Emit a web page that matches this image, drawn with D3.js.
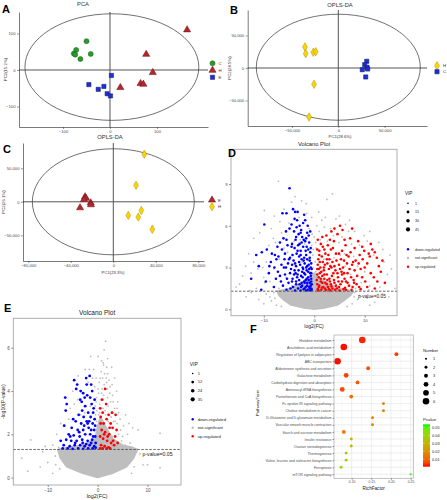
<!DOCTYPE html>
<html><head><meta charset="utf-8">
<script src="https://cdn.jsdelivr.net/npm/d3@7"></script>
<style>body{margin:0;background:#fff}svg{display:block}text{font-family:"Liberation Sans",Arial,sans-serif}</style>
</head><body><svg id="c" width="447" height="500"></svg>
<script>
// ---------- DATA ----------
// Panel A (PCA)
const pcaLabels = ["C", "H", "E"];
const pcaGreen = [[-50,79],[-72,55],[-77,45],[-74,42],[-63,30],[-41,44]];
const pcaRed   = [[164,110],[77,43],[91,-7],[22,-48],[65,-37],[71,-39]];
const pcaBlue  = [[3,-15],[-45,-40],[-25,-53],[-13,-45],[-6,-65],[1,-71]];
const pcaTicks = [-100, 0, 100];
// Panel B (OPLS-DA H vs C)
const oplsBLabels = ["H", "C"];
const oplsB_H = [[-36000,32300],[-35200,22000],[-27000,24200],[-24400,25100],[-26200,-25100],[-31600,-75400]];
const oplsB_C = [[30700,10300],[28500,5100],[31000,1100],[25900,-2600],[31700,-1500],[29600,-13800]];
const oplsBTicks = [-50000, 0, 50000];
// Panel C (OPLS-DA E vs H)
const oplsCLabels = ["E", "H"];
const oplsC_E = [[-26600,7400],[-25700,5300],[-27600,3400],[-21300,-1500],[-21000,-4400],[-31300,-8900]];
const oplsC_H = [[29200,71000],[21400,24600],[26400,-12900],[14100,-20300],[23500,-22800],[36700,-41000]];
const oplsCXTicks = [-80000, -40000, 0, 40000, 80000];
const oplsCYTicks = [-50000, 0, 50000];

// Panel D (volcano) [log2FC, -log10 p]
const volD_down = [[-4.9,8.7],[-9.9,6.1],[-6.3,6.9],[-5.5,6.9],[-4.2,7.2],[-3.8,7.0],[-2.0,6.8],[-3.4,6.4],[-1.8,6.4],[-3.5,5.9],[-5.6,5.6],[-2.6,5.7],[-1.4,5.5],[-3.6,5.2],[-2.4,5.2],[-5.5,5.0],[-6.1,5.1],[-9.4,4.3],[-11.5,3.9],[-10.4,4.1],[-8.4,4.0],[-7.8,3.9],[-7.1,3.8],[-4.5,4.5],[-3.2,4.6],[-2.2,4.5],[-1.2,4.3],[-5.8,4.0],[-4.8,3.7],[-8.6,3.4],[-6.5,3.2],[-5.2,3.3],[-4.1,3.5],[-3.0,3.8],[-2.5,3.6],[-1.6,3.9],[-0.9,3.7],[-3.6,3.1],[-2.8,3.2],[-1.9,3.3],[-1.1,3.2],[-0.7,3.0],[-4.6,2.9],[-3.9,2.8],[-2.2,2.9],[-1.5,2.8],[-0.8,2.6],[-7.2,2.7],[-9.0,2.6],[-5.8,2.5],[-3.3,2.5],[-2.6,2.4],[-1.8,2.5],[-1.2,2.3],[-0.6,2.2],[-4.3,2.2],[-3.0,2.1],[-2.0,2.0],[-1.4,1.9],[-0.9,1.9],[-0.5,1.8],[-6.6,2.0],[-5.1,1.9],[-3.6,1.8],[-2.4,1.7],[-1.7,1.6],[-1.0,1.6],[-0.6,1.5],[-8.0,1.6],[-4.7,1.5],[-3.2,1.5],[-2.1,1.45],[-1.3,1.4],[-0.8,1.35],[-0.5,1.4],[-10.5,1.4],[-5.5,1.4],[-3.8,1.35],[-2.7,1.35],[-1.6,1.35],[-12.5,2.2],[-7.5,3.6],[-6.0,3.0],[-3.5,4.0],[-2.7,4.2],[-1.0,4.8],[-2.9,6.0],[-1.3,6.0],[-4.5,6.1],[-2.3,3.0],[-1.5,2.2],[-0.7,1.7],[-1.9,1.9],[-2.5,1.9],[-3.4,2.3],[-4.0,2.5],[-0.6,2.6],[-1.2,2.7],[-2.0,2.6],[-5.0,3.6],[-4.3,3.9],[-1.7,4.2],[-0.8,4.1],[-2.1,5.0],[-3.1,5.4],[-4.0,5.6],[-1.6,5.1],
 [-3.7,2.6],[-3.1,2.8],[-2.4,2.7],[-1.6,3.0],[-1.0,2.9],[-0.6,3.3],[-0.9,3.5],[-1.4,3.6],[-2.0,3.7],[-2.7,3.9],[-3.3,4.2],[-3.9,4.4],[-4.4,4.7],[-2.5,4.8],[-1.8,4.9],[-0.7,4.4],[-1.1,5.3],[-2.7,5.5],[-3.9,6.5],[-4.9,5.8],[-5.3,4.6],[-6.4,4.3],[-6.8,4.8],[-7.3,4.5],[-8.9,3.1],[-7.9,3.0],[-5.6,3.0],[-4.8,2.6],[-5.4,2.2],[-6.2,1.7],[-4.2,1.6],[-2.9,1.8],[-1.9,1.5],[-0.9,1.5],[-0.6,2.0],[-1.1,2.1],[-1.7,2.1],[-2.3,2.3],[-3.6,2.0],[-4.4,2.0],[-2.6,1.6],[-1.4,1.7],[-0.7,2.4],[-0.5,2.9],[-1.4,3.1],[-2.1,3.5],[-3.0,3.4],[-3.8,3.3],[-4.4,3.2],[-5.9,3.6],[-6.8,2.4],[-7.6,2.2],[-9.6,2.0],[-11,3.1],[-0.8,5.6],[-2.2,6.2],[-3.3,7.0],[-1.5,4.5],[-2.9,4.7],[-3.7,5.0]];
const volD_up = [[5.1,6.0],[3.9,4.9],[7.1,5.1],[8.7,4.9],[9.9,4.2],[12.4,3.7],[11.5,4.3],[11.2,4.7],[14.0,1.9],[1.7,4.5],[3.3,4.3],[2.4,5.3],[4.6,5.4],[6.2,4.6],[5.5,4.2],[4.3,4.0],[2.8,3.9],[1.5,3.8],[0.8,3.6],[6.8,3.8],[8.2,3.5],[7.5,3.2],[10.5,3.3],[9.2,2.9],[5.9,3.5],[4.9,3.2],[3.6,3.4],[2.1,3.2],[1.2,3.0],[0.6,2.9],[2.9,2.9],[4.2,2.8],[5.4,2.7],[6.6,2.6],[8.5,2.4],[11.8,2.3],[13.2,2.7],[10.1,2.0],[7.8,2.1],[6.0,2.2],[4.7,2.3],[3.5,2.4],[2.5,2.5],[1.6,2.4],[0.9,2.3],[0.5,2.1],[1.3,2.0],[2.2,1.9],[3.1,2.0],[4.0,1.9],[5.2,1.8],[6.9,1.7],[8.9,1.6],[12.0,1.5],[1.0,1.7],[1.8,1.6],[2.7,1.6],[3.6,1.5],[4.5,1.5],[5.8,1.45],[7.4,1.4],[0.7,1.45],[1.4,1.4],[2.3,1.38],[3.2,1.36],[4.1,1.4],[5.0,1.35],[6.3,1.4],[0.6,1.8],[1.1,2.6],[1.9,2.8],[2.6,2.1],[3.3,1.8],[0.8,1.35],[1.6,1.9],[2.0,2.2],[3.8,2.6],[4.4,3.5],[5.7,3.0],[3.0,3.6],[2.2,4.0],[1.0,4.2],[6.5,3.3],[7.0,2.9],[9.6,3.6],[10.8,4.0],[8.0,4.4],[2.7,4.6],[0.7,5.0],[1.3,2.2],[2.9,1.45],[4.8,2.0],[5.5,2.5],[3.4,3.0],[1.7,3.4],[0.9,2.9],[12.8,3.1],[7.9,1.9],[6.1,1.55],[9.5,2.3],
 [0.7,3.2],[1.1,3.4],[1.9,3.0],[2.6,3.3],[3.2,3.1],[4.0,3.1],[4.6,2.6],[5.1,2.9],[5.9,2.6],[6.3,2.0],[7.3,2.3],[8.0,2.8],[3.0,2.2],[2.0,2.5],[1.4,2.7],[0.6,2.5],[0.9,1.6],[1.5,1.55],[2.1,1.5],[2.5,1.8],[3.4,1.65],[3.9,2.1],[4.3,1.7],[4.9,1.6],[5.5,2.0],[6.6,1.9],[7.6,1.6],[8.4,1.8],[9.2,1.45],[10.5,1.6],[11.2,2.6],[12.5,2.0],[13.5,3.5],[11.0,3.8],[9.0,3.9],[7.2,4.1],[6.0,5.0],[4.0,5.8],[3.1,5.0],[1.3,4.7],[2.0,4.3],[2.5,3.6],[3.7,4.4],[4.9,4.0],[5.3,3.6],[6.4,3.9],[7.7,3.4],[8.8,3.3],[10.0,3.0],[1.0,3.9],[0.6,4.3],[1.6,5.2],[3.4,5.6],[5.6,5.7],[7.5,5.8],[9.5,4.5],[12.0,4.1]];
const volD_ns = [[-7.1,9.2],[-2.5,7.8],[-1.6,7.6],[2.5,7.9],[3.6,8.3],[-4.5,7.7],[-9.9,7.1],[-7.9,6.7],[1.5,6.4],[4.3,6.5],[6.2,6.1],[0.5,6.0],[-0.5,6.6],[-6.8,6.3],[-8.5,5.8],[-12.0,5.1],[-10.8,5.5],[8.0,5.6],[9.9,5.3],[12.8,4.8],[15.0,3.9],[-13.6,3.1],[-14.8,1.8],[-13,4.0],[-11.2,2.9],[-9.5,3.4],[-6.5,5.5],[-5.0,6.2],[-3.0,6.6],[-1.0,5.8],[0.0,5.2],[1.0,5.6],[2.0,5.9],[3.2,5.8],[5.5,5.2],[7.4,4.7],[6.8,5.6],[9.0,4.6],[10.5,4.9],[11.8,3.9],[13.8,3.4],[14.5,2.5],[13.0,1.6],[-12.0,3.4],[-10.0,2.3],[-8.8,2.0],[-7.7,4.8],[-6.0,4.4],[-4.0,4.9],[-2.8,5.0],[-1.9,4.7],[-0.5,4.6],[0.4,4.4],[1.2,5.0],[2.6,4.9],[3.8,5.3],[4.9,4.8],[6.0,4.0],[7.8,3.8],[8.6,3.1],[10.0,2.7],[11.0,1.7],[-0.3,3.9],[0.2,3.4],[-0.2,3.0],[0.3,2.7],[-0.4,2.4],[0.1,2.0],[-0.2,1.7],[0.4,1.5],[-5.3,4.1],[-6.9,3.6],[-8.0,2.9],[-9.8,1.9],[-11.5,1.5],[-15.5,1.6],[-14.2,2.4],[16.0,1.5],[-3.9,3.2],[-2.4,3.4],[-1.3,3.5],[1.9,3.6],[3.9,3.7],[5.2,3.9],[6.1,3.1],[7.2,2.5],[-5.6,2.3],[-4.4,1.7],[-7.0,1.5],[8.2,1.5],[9.3,1.9],[10.8,1.4],[-12.8,1.35],[-13.5,0.9],[-11,0.7],[-9.5,1.1],[-8.5,0.6],[-10,0.4],[9,1.0],[10.5,0.8],[12,0.5],[13.5,1.1],[11,0.3],[-8,1.2],[8,1.2],[-12.5,1.2],[14.8,0.9],[-7.5,0.3],[7.5,0.4],[6.5,0.2],[-6.5,0.2],[-8.8,0.9],[8.6,0.7],[-7.8,0.8],[7.9,0.9],[-0.2,4.3],[0.3,4.8],[-0.4,5.4],[-1.5,6.9],[0.9,7.0],[-3.8,8.1],[-6.0,7.2],[-8.1,5.1],[-9.0,4.6],[-10.2,3.0],[-12.5,2.6],[2.2,6.6],[5.0,6.7],[7.0,6.4],[11.0,5.6],[13.6,4.3],[15.3,2.9]];
// outline of the saturated grey cloud of non-significant features
const volD_nsCloud = [[0,0],[-2,0.1],[-4.6,0.3],[-6,0.65],[-7,1.0],[-7.4,1.3],[-5,1.5],[-3,1.8],[-1,2.3],[0,2.6],[1,2.3],[3,1.8],[5,1.5],[7.8,1.3],[7.2,1.0],[6,0.65],[4.6,0.3],[2,0.1]];
const volDXTicks = [-10, 0, 10];
const volDYTicks = [0, 3, 6, 9];
const volDVip = [1, 15, 30, 45];

// Panel E (volcano)
const volE_down = [[-1.6,4.7],[-2.3,4.6],[-4.7,4.5],[-4.1,4.3],[-2.2,4.3],[-4.3,4.1],[-2.9,3.9],[-6.5,3.7],[-6.2,3.4],[-6.4,3.1],[-3.1,3.1],[-6.7,2.4],[-2.1,3.8],[-3.4,4.0],[-1.5,3.7],[-3.2,3.5],[-1.2,3.4],[-0.8,3.2],[-2.5,3.3],[-1.9,3.0],[-3.8,2.9],[-2.8,2.8],[-1.4,2.8],[-0.6,2.7],[-4.4,2.6],[-3.3,2.5],[-2.2,2.6],[-1.0,2.5],[-5.2,2.3],[-4.0,2.2],[-2.9,2.2],[-1.8,2.3],[-0.7,2.2],[-5.8,2.0],[-4.8,1.95],[-3.6,1.9],[-2.5,2.0],[-1.5,2.0],[-0.5,1.9],[-6.3,1.75],[-5.3,1.7],[-4.2,1.7],[-3.1,1.75],[-2.0,1.7],[-1.1,1.75],[-0.4,1.6],[-6.8,1.5],[-5.6,1.45],[-4.6,1.5],[-3.5,1.5],[-2.6,1.45],[-1.6,1.5],[-0.7,1.45],[-7.0,1.35],[-6.0,1.35],[-5.0,1.33],[-3.9,1.35],[-2.9,1.33],[-1.9,1.35],[-1.0,1.35],[-0.4,1.38],[-4.5,1.6],[-3.0,1.6],[-1.3,1.6],[-2.3,1.55],[-5.5,1.9],[-2.7,2.4],[-1.3,2.2],[-0.9,1.9],[-3.7,2.1],[-4.9,2.7],[-0.6,3.6],[-1.1,4.0],[-0.9,3.0],[-2.0,2.5],[-0.5,2.4],[-1.7,2.6],[-3.5,3.6],[-2.6,3.7],[-1.3,4.3],[-7.4,1.7]];
const volE_up = [[1.5,4.1],[0.5,3.2],[1.8,2.7],[3.8,2.2],[3.1,1.7],[0.6,2.8],[1.2,2.5],[2.2,2.9],[2.6,2.5],[0.8,2.2],[1.5,2.1],[2.3,2.0],[3.0,2.3],[0.5,1.9],[1.1,1.8],[1.9,1.7],[2.7,1.6],[0.7,1.5],[1.4,1.45],[2.2,1.4],[3.3,1.5],[0.5,1.35],[1.0,1.35],[1.8,1.35],[2.5,1.35],[3.6,2.9],[2.9,3.0],[1.0,3.0],[1.7,3.4],[0.9,3.6],[2.4,2.3],[1.3,2.0],[0.6,2.5],[2.0,1.9],[4.0,1.6],[3.5,1.9]];
const volE_ns = [[1.6,6.3],[1.3,5.9],[-1.4,5.6],[1.1,5.3],[1.2,5.2],[8.1,2.2],[12.5,2.05],[-13.4,1.74],[0.7,4.9],[-2.5,5.0],[2.0,4.8],[1.8,4.4],[2.5,4.2],[0.3,4.4],[-0.3,4.6],[3.0,3.8],[2.6,3.5],[0.2,3.9],[-0.3,3.5],[0.4,3.4],[3.4,3.2],[4.5,2.7],[5.2,2.4],[6.0,2.0],[-0.2,3.1],[0.2,2.9],[-0.2,2.6],[0.3,2.4],[-0.2,2.1],[0.2,1.8],[-0.1,1.6],[2.9,4.3],[-3.9,4.7],[-5.0,4.0],[-5.5,3.2],[-4.7,3.4],[-7.4,2.5],[-8.2,2.0],[-9.0,1.5],[6.5,1.6],[7.0,2.3],[-10.5,1.45],[-1.9,4.4],[4.0,3.5],[3.8,4.0],[-4.0,3.6],[-5.8,2.7],[2.0,5.5],[-0.8,5.0],[1.0,4.6],[5.5,1.5],[-7.8,1.4],[0.1,5.6],[2.7,3.0],[3.2,2.6],[4.2,2.0],[4.8,1.7],[-3.4,2.9],[-2.6,3.0],[-1.5,3.3],[0.0,2.3],[0.5,2.0],[-0.3,1.4],[1.5,3.1],[2.1,3.3],[0.8,3.9],[-0.6,4.2],[1.4,4.8],[-15.2,0.9],[-11.5,0.5],[-10,0.7],[-8.5,1.0],[-14,0.3],[8.5,1.1],[10,0.6],[12.5,0.46],[9.1,0.59],[-9,0.2],[7.3,0.5],[-7.6,0.4],[-11,1.2],[6.8,0.2],[-8.4,0.6],
 [0.6,3.6],[1.2,3.8],[2.0,3.7],[2.4,3.9],[1.9,4.1],[1.3,4.3],[0.9,4.1],[0.4,3.0],[1.1,3.2],[1.6,2.9],[2.1,2.6],[2.7,2.8],[3.1,3.5],[3.5,2.6],[3.9,2.5],[4.2,3.0],[4.6,2.2],[5.0,1.9],[4.4,1.5],[3.8,1.45],[2.9,1.9],[2.5,1.7],[1.7,1.9],[1.2,1.6],[0.3,1.5],[0.2,2.6],[-0.4,2.9],[-0.5,3.3],[-0.2,3.7],[0.1,4.1],[0.5,4.6],[1.7,4.6],[2.3,4.5],[3.4,4.6],[2.8,5.1],[1.8,5.1],[0.8,5.4],[-1.0,4.6],[-1.7,5.0],[3.9,3.2],[5.6,2.9],[6.3,2.5]];
const volE_nsCloud = [[0,0],[-3,0.2],[-6.2,0.5],[-7.5,0.9],[-8,1.3],[-6,1.4],[-3,1.5],[-0.5,1.8],[0,2.4],[0.6,2.8],[1.5,2.4],[3,1.8],[5,1.5],[7,1.4],[8,1.3],[7.2,0.9],[5.8,0.5],[3,0.2]];
const volEXTicks = [-10, 0, 10];
const volEYTicks = [0, 2, 4, 6];
const volEVip = [1, 12, 24, 35];
const volLegend = ["down-regulated", "not-significant", "up-regulated"];

// Panel F (KEGG enrichment)
const fPathways = ["Histidine metabolism","Arachidonic acid metabolism","Regulation of lipolysis in adipocytes","ABC transporters","Aldosterone synthesis and secretion","Galactose metabolism","Carbohydrate digestion and absorption","Aminoacyl-tRNA biosynthesis","Pantothenate and CoA biosynthesis","Fc epsilon RI signaling pathway","Choline metabolism in cancer","D-Glutamine and D-glutamate metabolism","Vascular smooth muscle contraction","Starch and sucrose metabolism","Insulin resistance","Ovarian steroidogenesis","Thermogenesis","Valine, leucine and isoleucine biosynthesis","Ferroptosis","mTOR signaling pathway"];
const fRichFactor = [0.127,0.080,0.214,0.064,0.142,0.086,0.115,0.076,0.099,0.181,0.181,0.153,0.153,0.080,0.099,0.099,0.086,0.086,0.073,0.250];
const fNumber = [6,6,3,6,3,4,3,4,3,2,2,2,2,3,2,2,2,2,2,1];
const fPvalue = [0.002,0.001,0.004,0.001,0.007,0.005,0.008,0.006,0.012,0.014,0.015,0.017,0.017,0.015,0.030,0.030,0.036,0.036,0.045,0.053];
const fXTicks = [0.10, 0.15, 0.20, 0.25];
const fNumberLegend = [1,2,3,4,5,6];
const fPLegend = [0.01,0.02,0.03,0.04,0.05];

// ---------- DRAW ----------
const svg = d3.select("#c");
svg.append("rect").attr("width",447).attr("height",500).attr("fill","#fff");
const FONT = '"Liberation Sans",Arial,sans-serif';

function letter(t, x, y){
  svg.append("text").attr("x",x).attr("y",y).text(t)
    .attr("font-family",'"Liberation Serif","Times New Roman",serif').attr("font-weight","bold").attr("font-size",11);
}
const styles = {
  green:{type:d3.symbolCircle,size:20,fill:"#2b9a2b",stroke:"#17601a"},
  red:{type:d3.symbolTriangle,size:22,fill:"#b8262b",stroke:"#5e0f12"},
  blue:{type:d3.symbolSquare,size:18,fill:"#1f2fd4",stroke:"#0c176e"},
  yellow:{type:d3.symbolDiamond,size:20,fill:"#ffd500",stroke:"#a98e00"}
};
function styleAxis(g, fs){
  g.selectAll("path.domain").attr("stroke","#222").attr("stroke-width",0.6);
  g.selectAll(".tick line").attr("stroke","#333").attr("stroke-width",0.5);
  g.selectAll(".tick text").attr("font-size",fs).attr("fill","#4d4d4d").attr("font-family",FONT);
}

function scatterPanel(c){
  const g = svg.append("g");
  const x = d3.scaleLinear().domain(c.xd).range(c.xr);
  const y = d3.scaleLinear().domain(c.yd).range(c.yr);
  g.append("line").attr("x1",c.xr[0]).attr("x2",c.xr[1]).attr("y1",y(0)).attr("y2",y(0)).attr("stroke","#555").attr("stroke-width",1);
  g.append("line").attr("x1",x(0)).attr("x2",x(0)).attr("y1",c.yr[0]).attr("y2",c.yr[1]).attr("stroke","#555").attr("stroke-width",1);
  g.append("ellipse").attr("cx",x(c.ell[0])).attr("cy",y(c.ell[1]))
    .attr("rx",x(c.ell[0]+c.ell[2])-x(c.ell[0])).attr("ry",y(c.ell[1])-y(c.ell[1]+c.ell[3]))
    .attr("fill","none").attr("stroke","#333").attr("stroke-width",0.7);
  const ax = g.append("g").attr("transform",`translate(0,${c.yr[0]})`).call(d3.axisBottom(x).tickValues(c.xt).tickSize(2).tickSizeOuter(0).tickPadding(1.2));
  const ay = g.append("g").attr("transform",`translate(${c.xr[0]},0)`).call(d3.axisLeft(y).tickValues(c.yt).tickSize(2).tickSizeOuter(0).tickPadding(1.5));
  styleAxis(ax,4.2); styleAxis(ay,4.2);
  c.groups.forEach(gr=>{
    const s = styles[gr.style];
    g.selectAll(null).data(gr.data).enter().append("path")
      .attr("d",d3.symbol().type(s.type).size(s.size))
      .attr("transform",d=>`translate(${x(d[0])},${y(d[1])})`)
      .attr("fill",s.fill).attr("stroke",s.stroke).attr("stroke-width",0.5);
  });
  g.append("text").attr("x",c.title[1]).attr("y",c.title[2]).attr("text-anchor","middle").attr("font-size",5.8).attr("fill","#333").text(c.title[0]);
  if(c.ylab) g.append("text").attr("transform",`translate(${c.ylab[1]},${(c.yr[0]+c.yr[1])/2}) rotate(-90)`).attr("text-anchor","middle").attr("font-size",4.3).attr("fill","#333").text(c.ylab[0]);
  if(c.xlab) g.append("text").attr("x",c.xlab[1]).attr("y",c.xlab[2]).attr("text-anchor","middle").attr("font-size",4.2).attr("fill","#333").text(c.xlab[0]);
  c.groups.forEach((gr,i)=>{
    const s = styles[gr.style];
    const ly = c.leg[1] + i*c.leg[2];
    g.append("path").attr("d",d3.symbol().type(s.type).size(s.size)).attr("transform",`translate(${c.leg[0]},${ly})`)
      .attr("fill",s.fill).attr("stroke",s.stroke).attr("stroke-width",0.5);
    g.append("text").attr("x",c.leg[0]+6).attr("y",ly+1.5).attr("font-size",4.3).attr("fill","#333").text(gr.label);
  });
}

// A
scatterPanel({xd:[-193.6,208.5], xr:[19,208], yd:[-156.2,158.9], yr:[127,12],
  xt:pcaTicks, yt:pcaTicks, ell:[4,8,185,146], title:["PCA",83,6],
  ylab:["PC2(15.2%)",7],
  groups:[{data:pcaGreen,style:"green",label:pcaLabels[0]},{data:pcaRed,style:"red",label:pcaLabels[1]},{data:pcaBlue,style:"blue",label:pcaLabels[2]}],
  leg:[212.5,63.3,7]});
letter("A",2,13);
// B
scatterPanel({xd:[-97840,95790], xr:[247.7,427], yd:[-89230,89230], yr:[126,10],
  xt:oplsBTicks, yt:oplsBTicks, ell:[0,1200,88550,81540], title:["OPLS-DA",340,7],
  ylab:["PC2(28.5%)",231], xlab:["PC1(28.6%)",340,137.5],
  groups:[{data:oplsB_H,style:"yellow",label:oplsBLabels[0]},{data:oplsB_C,style:"blue",label:oplsBLabels[1]}],
  leg:[437,65.7,6]});
letter("B",230,14);
// C
scatterPanel({xd:[-84990,85360], xr:[23,204], yd:[-88310,87720], yr:[261,143],
  xt:oplsCXTicks, yt:oplsCYTicks, ell:[0,0,76200,79100], title:["OPLS-DA",110,139],
  ylab:["PC2(26.1%)",5], xlab:["PC1(23.3%)",113,273.5],
  groups:[{data:oplsC_E,style:"red",label:oplsCLabels[0]},{data:oplsC_H,style:"yellow",label:oplsCLabels[1]}],
  leg:[212,200,6.7]});
letter("C",3,153);

// Volcano
const volColors = {down:"#0000ff", ns:"#bebebe", up:"#ff0000"};
function volcano(c){
  const g = svg.append("g");
  const x = d3.scaleLinear().domain(c.xd).range(c.xr);
  const y = d3.scaleLinear().domain(c.yd).range(c.yr);
  g.append("rect").attr("x",c.xr[0]).attr("y",c.yr[1]).attr("width",c.xr[1]-c.xr[0]).attr("height",c.yr[0]-c.yr[1]).attr("fill","#fff");
  const line = d3.line().x(d=>x(d[0])).y(d=>y(d[1]));
  g.append("path").attr("d",line(c.cloud)+"Z").attr("fill",volColors.ns).attr("stroke",volColors.ns).attr("stroke-width",1.5).attr("stroke-linejoin","round");
  g.selectAll(null).data(c.ns).enter().append("circle").attr("cx",d=>x(d[0])).attr("cy",d=>y(d[1])).attr("r",0.9).attr("fill",volColors.ns);
  g.selectAll(null).data(c.down).enter().append("circle").attr("cx",d=>x(d[0])).attr("cy",d=>y(d[1])).attr("r",c.pr).attr("fill",volColors.down);
  g.selectAll(null).data(c.up).enter().append("circle").attr("cx",d=>x(d[0])).attr("cy",d=>y(d[1])).attr("r",c.pr).attr("fill",volColors.up);
  const thr = -Math.log10(0.05);
  g.append("line").attr("x1",c.xr[0]).attr("x2",c.xr[1]).attr("y1",y(thr)).attr("y2",y(thr)).attr("stroke","#444").attr("stroke-width",0.8).attr("stroke-dasharray","2.5,1.5");
  g.append("text").attr("x",c.pv[0]).attr("y",c.pv[1]).attr("font-size",c.fs+0.6).attr("fill","#222").text("p-value=0.05");
  g.append("rect").attr("x",c.xr[0]).attr("y",c.yr[1]).attr("width",c.xr[1]-c.xr[0]).attr("height",c.yr[0]-c.yr[1]).attr("fill","none").attr("stroke","#a6a6a6").attr("stroke-width",0.9);
  const ax = g.append("g").attr("transform",`translate(0,${c.yr[0]})`).call(d3.axisBottom(x).tickValues(c.xt).tickSize(2).tickSizeOuter(0).tickPadding(1.5));
  const ay = g.append("g").attr("transform",`translate(${c.xr[0]},0)`).call(d3.axisLeft(y).tickValues(c.yt).tickSize(2).tickSizeOuter(0).tickPadding(1.5));
  ax.select("path.domain").remove(); ay.select("path.domain").remove();
  styleAxis(ax,c.fs); styleAxis(ay,c.fs);
  g.append("text").attr("x",(c.xr[0]+c.xr[1])/2).attr("y",c.title[1]).attr("text-anchor","middle").attr("font-size",c.title[0]).attr("fill","#222").text("Volcano Plot");
  g.append("text").attr("x",(c.xr[0]+c.xr[1])/2).attr("y",c.xlab).attr("text-anchor","middle").attr("font-size",c.fs+0.8).attr("fill","#222").text("log2(FC)");
  if(c.ylab) g.append("text").attr("transform",`translate(${c.ylab},${(c.yr[0]+c.yr[1])/2}) rotate(-90)`).attr("text-anchor","middle").attr("font-size",c.fs+0.5).attr("fill","#222").text("-log10(P-value)");
  const L = c.leg;
  g.append("text").attr("x",L.x-3).attr("y",L.vipY).attr("font-size",c.lfs+1).attr("fill","#222").text("VIP");
  const rs = [0.8,1.4,1.8,2.1];
  c.vip.forEach((v,i)=>{
    const yy = L.vipY + L.d0 + i*L.dv;
    g.append("circle").attr("cx",L.x).attr("cy",yy).attr("r",rs[i]).attr("fill","#000");
    g.append("text").attr("x",L.x+L.tx).attr("y",yy+1.3).attr("font-size",c.lfs).attr("fill","#222").text(v);
  });
  [volColors.down,volColors.ns,volColors.up].forEach((col,i)=>{
    const yy = L.colY + i*L.dc;
    g.append("circle").attr("cx",L.x).attr("cy",yy).attr("r",1.2).attr("fill",col);
    g.append("text").attr("x",L.x+L.tx).attr("y",yy+1.3).attr("font-size",c.lfs).attr("fill","#222").text(volLegend[i]);
  });
}
volcano({xd:[-16.5,16.4], xr:[231,397], yd:[-0.46,11.5], yr:[315.7,149.3], xt:volDXTicks, yt:volDYTicks,
  down:volD_down, up:volD_up, ns:volD_ns, cloud:volD_nsCloud, pr:1.3, fs:4.2, lfs:3.6,
  title:[5.8,146], xlab:328, pv:[358,297.5], vip:volDVip,
  leg:{x:408, vipY:195, d0:8.3, dv:8.7, tx:7, colY:249.3, dc:8.7}});
letter("D",228,157);
volcano({xd:[-16.9,16.7], xr:[13.3,181], yd:[-0.34,7.36], yr:[485,318.3], xt:volEXTicks, yt:volEYTicks,
  down:volE_down, up:volE_up, ns:volE_ns, cloud:volE_nsCloud, pr:1.4, fs:4.6, lfs:4.1,
  title:[6.5,314.5], xlab:497.5, pv:[142.5,456], ylab:5, vip:volEVip,
  leg:{x:192.7, vipY:365.5, d0:8, dv:8.6, tx:5, colY:419.3, dc:8.5}});
letter("E",4,312);

// F
(function(){
  const g = svg.append("g");
  const x0=334, x1=413.3, yT=335, yB=478.3;
  const x = d3.scaleLinear().domain([0.055,0.257]).range([x0,x1]);
  const y = d3.scalePoint().domain(fPathways).range([340,474.3]);
  const size = d3.scaleLinear().domain([1,6]).range([1.0,3.3]);
  const col = d3.scaleLinear().domain([0.0007,0.0538]).range(["#ff0000","#00ff00"]).interpolate(d3.interpolateLab);
  g.append("rect").attr("x",x0).attr("y",yT).attr("width",x1-x0).attr("height",yB-yT).attr("fill","#fff");
  const minor = [0.075,0.125,0.175,0.225];
  minor.forEach(v=>g.append("line").attr("x1",x(v)).attr("x2",x(v)).attr("y1",yT).attr("y2",yB).attr("stroke","#f2f2f2").attr("stroke-width",0.5));
  fXTicks.forEach(v=>g.append("line").attr("x1",x(v)).attr("x2",x(v)).attr("y1",yT).attr("y2",yB).attr("stroke","#e6e6e6").attr("stroke-width",0.7));
  fPathways.forEach(p=>g.append("line").attr("x1",x0).attr("x2",x1).attr("y1",y(p)).attr("y2",y(p)).attr("stroke","#e6e6e6").attr("stroke-width",0.7));
  g.selectAll(null).data(fPathways).enter().append("circle")
    .attr("cx",(d,i)=>x(fRichFactor[i])).attr("cy",d=>y(d)).attr("r",(d,i)=>size(fNumber[i])).attr("fill",(d,i)=>col(fPvalue[i]));
  g.append("rect").attr("x",x0).attr("y",yT).attr("width",x1-x0).attr("height",yB-yT).attr("fill","none").attr("stroke","#b3b3b3").attr("stroke-width",0.8);
  const ax = g.append("g").attr("transform",`translate(0,${yB})`).call(d3.axisBottom(x).tickValues(fXTicks).tickFormat(d3.format(".2f")).tickSize(1.5).tickSizeOuter(0).tickPadding(1));
  const ay = g.append("g").attr("transform",`translate(${x0},0)`).call(d3.axisLeft(y).tickSize(1.5).tickSizeOuter(0).tickPadding(1));
  ax.select("path.domain").remove(); ay.select("path.domain").remove();
  styleAxis(ax,3.4); styleAxis(ay,3.5);
  g.append("text").attr("x",(x0+x1)/2).attr("y",489.5).attr("text-anchor","middle").attr("font-size",4.6).attr("fill","#222").text("RichFactor");
  g.append("text").attr("transform",`translate(259,403) rotate(-90)`).attr("text-anchor","middle").attr("font-size",4.4).attr("fill","#222").text("PathwayTerm");
  g.append("text").attr("x",423).attr("y",351.5).attr("font-size",4.3).attr("fill","#222").text("Number");
  const ly = d3.scaleLinear().domain([1,6]).range([358.7,401.3]);
  fNumberLegend.forEach(n=>{
    g.append("circle").attr("cx",426).attr("cy",ly(n)).attr("r",size(n)).attr("fill","#000");
    g.append("text").attr("x",433).attr("y",ly(n)+1.4).attr("font-size",3.9).attr("fill","#222").text(n);
  });
  g.append("text").attr("x",423).attr("y",421).attr("font-size",4.3).attr("fill","#222").text("Pvalue");
  const py = d3.scaleLinear().domain([0.0007,0.0538]).range([466.7,424.3]);
  const grad = svg.append("defs").append("linearGradient").attr("id","pg").attr("x1",0).attr("x2",0).attr("y1",1).attr("y2",0);
  d3.range(0,1.0001,0.1).forEach(t=>grad.append("stop").attr("offset",t).attr("stop-color",col(0.0007+t*(0.0538-0.0007))));
  g.append("rect").attr("x",423).attr("y",424.3).attr("width",7).attr("height",42.4).attr("fill","url(#pg)");
  fPLegend.forEach(v=>{
    g.append("line").attr("x1",423).attr("x2",424.5).attr("y1",py(v)).attr("y2",py(v)).attr("stroke","#fff").attr("stroke-width",0.4);
    g.append("line").attr("x1",428.5).attr("x2",430).attr("y1",py(v)).attr("y2",py(v)).attr("stroke","#fff").attr("stroke-width",0.4);
    g.append("text").attr("x",432).attr("y",py(v)+1.3).attr("font-size",3.9).attr("fill","#222").text(v.toFixed(2));
  });
})();
letter("F",250,333);
</script></body></html>
